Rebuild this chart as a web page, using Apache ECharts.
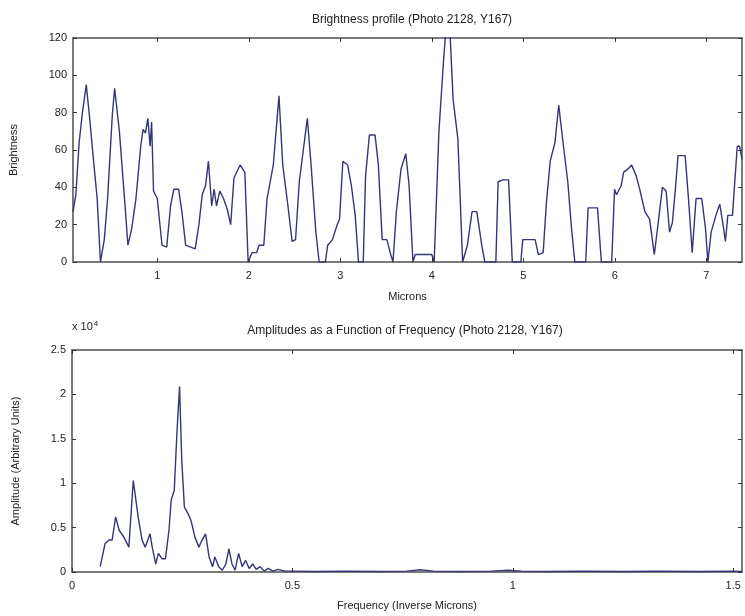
<!DOCTYPE html>
<html>
<head>
<meta charset="utf-8">
<script src="https://cdn.jsdelivr.net/npm/echarts@6/dist/echarts.min.js"></script>
<style>
  html, body { margin: 0; padding: 0; background: #fff; }
  #main { width: 745px; height: 616px; }
</style>
</head>
<body>
<div id="main"></div>
<script>
// brightness profile (top panel)
var microns = [0.079, 0.110, 0.146, 0.182, 0.224, 0.265, 0.302, 0.343, 0.379, 0.421, 0.457, 0.509, 0.534, 0.586, 0.648, 0.679, 0.721, 0.767, 0.819, 0.845,
    0.871, 0.897, 0.922, 0.938, 0.959, 1.000, 1.052, 1.103, 1.145, 1.181, 1.233, 1.269, 1.310, 1.414, 1.455, 1.491, 1.528, 1.559, 1.595, 1.621,
    1.647, 1.683, 1.724, 1.766, 1.802, 1.838, 1.905, 1.957, 1.993, 2.035, 2.086, 2.112, 2.164, 2.200, 2.268, 2.330, 2.371, 2.423, 2.474, 2.511,
    2.552, 2.640, 2.681, 2.733, 2.769, 2.837, 2.862, 2.914, 2.966, 2.992, 3.028, 3.080, 3.121, 3.163, 3.199, 3.251, 3.276, 3.318, 3.380, 3.416,
    3.458, 3.509, 3.545, 3.576, 3.613, 3.664, 3.716, 3.752, 3.794, 3.819, 4.000, 4.026, 4.078, 4.130, 4.155, 4.197, 4.233, 4.285, 4.337, 4.389,
    4.440, 4.492, 4.546, 4.580, 4.700, 4.725, 4.777, 4.839, 4.880, 4.973, 4.994, 5.046, 5.129, 5.165, 5.217, 5.253, 5.294, 5.346, 5.387, 5.439,
    5.486, 5.527, 5.563, 5.682, 5.708, 5.811, 5.853, 5.966, 5.997, 6.018, 6.070, 6.096, 6.147, 6.184, 6.235, 6.277, 6.329, 6.380, 6.432, 6.484,
    6.520, 6.561, 6.598, 6.629, 6.665, 6.691, 6.769, 6.805, 6.846, 6.888, 6.950, 6.991, 7.017, 7.053, 7.105, 7.147, 7.183, 7.209, 7.235, 7.286,
    7.338, 7.364, 7.390];
var brightness = [27, 36, 64, 80, 95, 75, 55, 34, 0, 12, 34, 79, 93, 70, 30, 9, 18, 34, 62, 71,
    69, 77, 62, 75, 38, 34, 9, 8, 30, 39, 39, 27, 9, 7, 20, 36, 41, 54, 30, 39,
    30, 38, 34, 28, 20, 45, 52, 48, 0, 5, 5, 9, 9, 34, 52, 89, 52, 32, 11, 12,
    43, 77, 52, 16, 0, 0, 9, 12, 20, 23, 54, 52, 41, 25, 0, 0, 46, 68, 68, 52,
    12, 12, 5, 0, 27, 50, 58, 41, 0, 4, 4, 0, 70, 109, 125, 125, 87, 66, 0, 9,
    27, 27, 9, 0, 0, 43, 44, 44, 0, 0, 12, 12, 12, 4, 5, 32, 54, 64, 84, 62,
    43, 18, 0, 0, 29, 29, 0, 0, 39, 36, 41, 48, 50, 52, 46, 38, 27, 23, 4, 25,
    40, 38, 16, 21, 41, 57, 57, 34, 5, 34, 34, 18, 0, 16, 25, 31, 20, 11, 25, 25,
    62, 62, 55];

// amplitude spectrum (bottom panel), amplitude in units of 10^4
var freq = [0.064, 0.075, 0.084, 0.091, 0.099, 0.107, 0.118, 0.129, 0.139, 0.145, 0.150, 0.159, 0.166, 0.177, 0.182, 0.190, 0.196, 0.204, 0.212, 0.220,
    0.225, 0.232, 0.238, 0.244, 0.249, 0.255, 0.263, 0.270, 0.279, 0.288, 0.295, 0.303, 0.311, 0.319, 0.324, 0.333, 0.341, 0.349, 0.356, 0.363,
    0.370, 0.378, 0.386, 0.394, 0.402, 0.410, 0.418, 0.427, 0.436, 0.445, 0.456, 0.467, 0.483, 0.504, 0.55, 0.62, 0.70, 0.76, 0.79, 0.82,
    0.88, 0.95, 0.99, 1.02, 1.08, 1.16, 1.25, 1.33, 1.42, 1.50, 1.52];
var amplitude = [0.06, 0.32, 0.36, 0.36, 0.62, 0.47, 0.39, 0.28, 1.03, 0.81, 0.62, 0.36, 0.28, 0.43, 0.28, 0.09, 0.21, 0.15, 0.15, 0.47,
    0.81, 0.92, 1.56, 2.09, 1.26, 0.73, 0.66, 0.58, 0.39, 0.28, 0.36, 0.43, 0.17, 0.06, 0.17, 0.06, 0.02, 0.09, 0.26, 0.09,
    0.02, 0.21, 0.06, 0.13, 0.04, 0.09, 0.03, 0.06, 0.01, 0.04, 0.01, 0.03, 0.01, 0.01, 0.005, 0.01, 0.005, 0.01, 0.025, 0.01,
    0.005, 0.01, 0.02, 0.01, 0.005, 0.01, 0.005, 0.01, 0.005, 0.01, 0.005];

var micronTicks = [1, 2, 3, 4, 5, 6, 7];
var freqTicks = [0, 0.5, 1, 1.5];

var lineColor = '#35357a';
var boxColor = '#7a7a7a';
var txt = '#222';
var fam = 'Liberation Sans, Arial, sans-serif';

function zip(a, b) {
    var out = [];
    for (var i = 0; i < a.length; i++) out.push([a[i], b[i]]);
    return out;
}

function xAx(gi, min, max, ticks, pos, name, gap) {
    var bottom = pos === 'bottom';
    return {
        type: 'value', gridIndex: gi, position: pos, min: min, max: max,
        name: bottom ? name : '', nameLocation: 'middle', nameGap: gap,
        nameTextStyle: { color: txt, fontSize: 11, fontFamily: fam },
        axisLine: { show: true, onZero: false, lineStyle: { color: boxColor, width: 2 } },
        axisTick: { show: true, inside: true, length: 4, customValues: ticks, lineStyle: { color: '#333' } },
        axisLabel: { show: bottom, customValues: ticks, color: txt, fontSize: 11, fontFamily: fam, margin: 8 },
        splitLine: { show: false }
    };
}

function yAx(gi, min, max, interval, pos, name, gap) {
    var left = pos === 'left';
    return {
        type: 'value', gridIndex: gi, position: pos, min: min, max: max, interval: interval,
        name: left ? name : '', nameLocation: 'middle', nameGap: gap,
        nameTextStyle: { color: txt, fontSize: 11, fontFamily: fam },
        axisLine: { show: true, onZero: false, lineStyle: { color: boxColor, width: 2 } },
        axisTick: { show: true, inside: true, length: 4, lineStyle: { color: '#333' } },
        axisLabel: { show: left, color: txt, fontSize: 11, fontFamily: fam, margin: 6 },
        splitLine: { show: false }
    };
}

var myChart = echarts.init(document.getElementById('main'));
var option = {
    animation: false,
    backgroundColor: '#fff',
    title: [{
        text: 'Brightness profile (Photo 2128, Y167)',
        left: 407, top: 9, textAlign: 'center',
        textStyle: { color: txt, fontSize: 12, fontWeight: 'normal', fontFamily: fam }
    }, {
        text: 'Amplitudes as a Function of Frequency (Photo 2128, Y167)',
        left: 400, top: 320, textAlign: 'center',
        textStyle: { color: txt, fontSize: 12, fontWeight: 'normal', fontFamily: fam }
    }],
    graphic: [{
        type: 'text', left: 72, top: 320,
        style: {
            text: '{a|x 10}{b|4}',
            rich: {
                a: { fontSize: 11, fill: txt, fontFamily: fam },
                b: { fontSize: 8, fill: txt, fontFamily: fam, verticalAlign: 'top', padding: [0, 0, 6, 1] }
            }
        }
    }],
    grid: [
        { left: 72, right: 3, top: 38, height: 224 },
        { left: 72, right: 3, top: 350, height: 222 }
    ],
    xAxis: [
        xAx(0, 0.079, 7.39, micronTicks, 'bottom', 'Microns', 29),
        xAx(0, 0.079, 7.39, micronTicks, 'top', '', 0),
        xAx(1, 0, 1.52, freqTicks, 'bottom', 'Frequency (Inverse Microns)', 28),
        xAx(1, 0, 1.52, freqTicks, 'top', '', 0)
    ],
    yAxis: [
        yAx(0, 0, 120, 20, 'left', 'Brightness', 54),
        yAx(0, 0, 120, 20, 'right', '', 0),
        yAx(1, 0, 2.5, 0.5, 'left', 'Amplitude (Arbitrary Units)', 51),
        yAx(1, 0, 2.5, 0.5, 'right', '', 0)
    ],
    series: [{
        name: 'Brightness',
        type: 'line',
        xAxisIndex: 0, yAxisIndex: 0,
        data: zip(microns, brightness),
        showSymbol: false,
        clip: true,
        lineStyle: { color: lineColor, width: 1.4 }
    }, {
        name: 'Amplitude',
        type: 'line',
        xAxisIndex: 2, yAxisIndex: 2,
        data: zip(freq, amplitude),
        showSymbol: false,
        clip: true,
        lineStyle: { color: lineColor, width: 1.4 }
    }]
};
myChart.setOption(option);
</script>
</body>
</html>
